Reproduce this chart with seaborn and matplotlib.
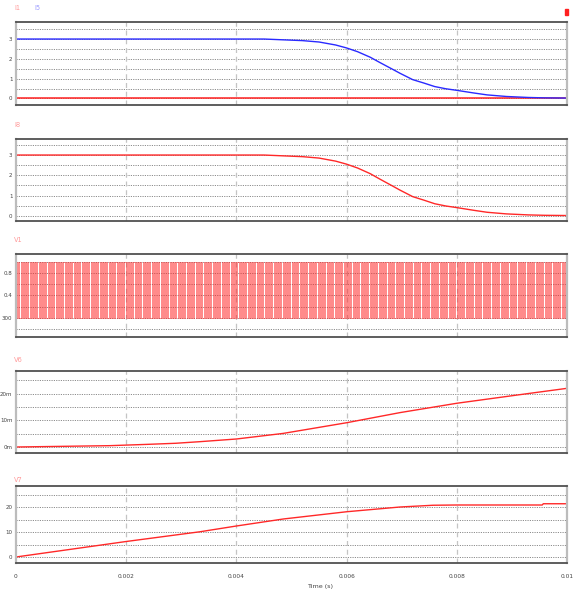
import numpy as np
import pandas as pd
import matplotlib
matplotlib.use("Agg")
import matplotlib.pyplot as plt
import seaborn as sns

sns.set_style("white")
plt.rcParams['font.family'] = ['DejaVu Sans']

# ---------------- data ----------------
t_i = [0.0, 0.0045, 0.0052, 0.0055, 0.0058, 0.0060, 0.0062, 0.00643, 0.0066,
       0.00685, 0.00697, 0.0072, 0.0074, 0.0076, 0.0078, 0.0080, 0.0083,
       0.00855, 0.0089, 0.0093, 0.0096, 0.0100]
i5 = [3.0, 3.0, 2.92, 2.85, 2.70, 2.55, 2.36, 2.08, 1.82,
      1.45, 1.27, 0.95, 0.78, 0.60, 0.49, 0.41, 0.28,
      0.18, 0.10, 0.05, 0.03, 0.02]
i8 = [3.0, 3.0, 2.92, 2.85, 2.70, 2.55, 2.36, 2.08, 1.82,
      1.45, 1.27, 0.95, 0.78, 0.60, 0.49, 0.41, 0.28,
      0.18, 0.10, 0.05, 0.03, 0.02]
t_i1 = [0.0, 0.01]
i1 = [0.0, 0.0]

# V1: PWM gate signal switching between two levels
v1_levels = [0.0, 1.0]
v1_period = 4.1e-5
t_end = 0.01

t_v6 = [0.0, 0.0017, 0.0024, 0.0029, 0.00334, 0.0040, 0.00485, 0.0060,
        0.00697, 0.0080, 0.0091, 0.0100]
v6 = [0.0, 0.0005, 0.0010, 0.0014, 0.0020, 0.0030, 0.0051, 0.0091,
      0.0129, 0.0164, 0.0195, 0.0220]

t_v7 = [0.0, 0.0020, 0.00334, 0.0040, 0.00485, 0.0060, 0.00697, 0.00757,
        0.0080, 0.00955, 0.00957, 0.0100]
v7 = [0.0, 6.2, 10.1, 12.4, 15.2, 18.1, 20.0, 20.7,
      20.8, 20.8, 21.3, 21.3]

x_ticks = [0, 0.002, 0.004, 0.006, 0.008, 0.01]
x_labels = ["0", "0.002", "0.004", "0.006", "0.008", "0.01"]

# ---------------- figure ----------------
W, H = 573, 589
fig = plt.figure(figsize=(W / 100, H / 100), dpi=100)
fig.patch.set_facecolor("white")

def px_axes(left, top, right, bottom):
    return fig.add_axes([left / W, 1 - bottom / H, (right - left) / W, (bottom - top) / H])

def style(ax, ylim, grid_y, tick_vals, tick_texts, show_x=False):
    ax.set_xlim(0, t_end)
    ax.set_ylim(*ylim)
    ax.set_facecolor("white")
    for y in grid_y:
        ax.axhline(y, color="#8c8c8c", lw=0.7, ls=(0, (1.2, 1.2)), zorder=0)
    for x in x_ticks[1:-1]:
        ax.axvline(x, color="#c4c4c4", lw=0.9, ls=(0, (4, 3)), zorder=0)
    ax.set_yticks(tick_vals)
    ax.set_yticklabels(tick_texts, fontsize=4.0, color="#444444")
    ax.tick_params(axis="y", length=0, pad=2.5)
    ax.set_xticks(x_ticks)
    if show_x:
        ax.set_xticklabels(x_labels, fontsize=4.2, color="#444444")
        ax.tick_params(axis="x", length=0, pad=8)
    else:
        ax.set_xticklabels([])
        ax.tick_params(axis="x", length=0)
    ax.set_xlabel("")
    ax.set_ylabel("")
    for s in ["top", "bottom"]:
        ax.spines[s].set_color("#505050")
        ax.spines[s].set_linewidth(1.3)
    for s in ["left", "right"]:
        ax.spines[s].set_color("#bcbcbc")
        ax.spines[s].set_linewidth(1.6)

def label(x_px, y_px, text, color):
    fig.text(x_px / W, 1 - y_px / H, text, fontsize=4.8, color=color,
             ha="left", va="center")

# Panel 1: I1, I5
ax1 = px_axes(16, 22, 567, 105)
sns.lineplot(x=t_i1, y=i1, ax=ax1, color="#ff2020", lw=1.1, estimator=None)
sns.lineplot(x=t_i, y=i5, ax=ax1, color="#2a2aff", lw=1.0, estimator=None)
style(ax1, (-0.33, 3.86), np.arange(0, 3.51, 0.5), [0, 1, 2, 3], ["0", "1", "2", "3"])
label(14, 8, "I1", "#ff9a9a")
label(34, 8, "I5", "#9a9aff")

# Panel 2: I8
ax2 = px_axes(16, 139, 567, 221)
sns.lineplot(x=t_i, y=i8, ax=ax2, color="#ff2828", lw=1.0, estimator=None)
style(ax2, (-0.25, 3.79), np.arange(0, 3.51, 0.5), [0, 1, 2, 3], ["0", "1", "2", "3"])
label(14, 125, "I8", "#ff9a9a")

# Panel 3: V1 (PWM)
ax3 = px_axes(16, 254, 567, 337)
n_per = int(round(t_end / v1_period))
edges = np.arange(n_per + 1) * v1_period
half = edges[:-1] + v1_period / 2
tt = np.ravel(np.column_stack([edges[:-1], edges[:-1], half, half]))
vv = np.tile([v1_levels[0], v1_levels[1], v1_levels[1], v1_levels[0]], n_per)
df_v1 = pd.DataFrame({"t": tt, "v": vv})
sns.lineplot(data=df_v1, x="t", y="v", ax=ax3, color="#ff2a2a", lw=0.55,
             estimator=None, sort=False, alpha=0.7)
style(ax3, (-0.34, 1.14), np.arange(-0.2, 1.01, 0.2), [0, 0.4, 0.8], ["300", "0.4", "0.8"])
label(14, 240, "V1", "#ff9a9a")

# Panel 4: V6
ax4 = px_axes(16, 371, 567, 453)
sns.lineplot(x=t_v6, y=v6, ax=ax4, color="#ff2828", lw=1.0, estimator=None)
style(ax4, (-0.00225, 0.0285), np.arange(0, 0.0251, 0.005), [0, 0.01, 0.02], ["0m", "10m", "20m"])
label(14, 360, "V6", "#ff9a9a")

# Panel 5: V7
ax5 = px_axes(16, 486, 567, 563)
sns.lineplot(x=t_v7, y=v7, ax=ax5, color="#ff2828", lw=1.0, estimator=None)
style(ax5, (-2.4, 28.4), np.arange(0, 25.1, 5), [0, 10, 20], ["0", "10", "20"], show_x=True)
label(14, 480, "V7", "#ff9a9a")

fig.text(320 / W, 1 - 584 / H, "Time (s)", fontsize=4.6, color="#444444", ha="center", va="top")

# small red marker at top right
fig.patches.append(matplotlib.patches.Rectangle((565 / W, 1 - 15 / H), 3 / W, 6 / H,
                                                transform=fig.transFigure, color="#ff2020"))

fig.savefig("out.png", dpi=100, facecolor="white")
